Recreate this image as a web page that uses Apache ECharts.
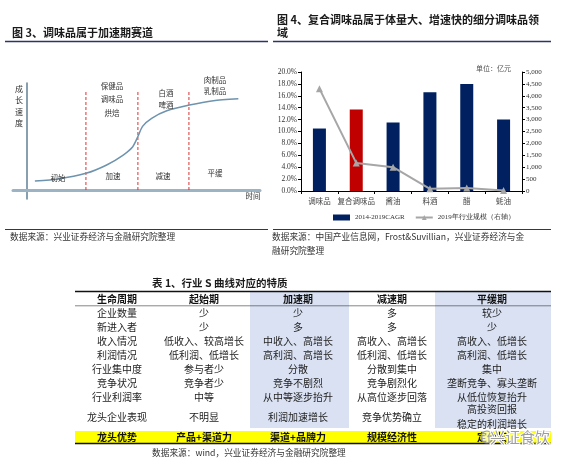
<!DOCTYPE html>
<html><head><meta charset="utf-8">
<script src="https://cdn.jsdelivr.net/npm/echarts@6/dist/echarts.min.js"></script>
<style>html,body{margin:0;padding:0;background:#fff}#c{width:573px;height:468px}</style>
</head><body><div id="c"></div>
<script>
// ---------- Figure 3: S-curve ----------
const curveTime   = [3.4, 13.4, 25.3, 34.2, 41.3, 45.4, 47.6, 49.6, 53.5, 60, 69.7, 80, 90.7];
const curveGrowth = [8.4, 10.3, 15.6, 23.4, 32.7, 40.5, 50.0, 59.5, 67, 74, 79.4, 83.5, 85.3];
const stageBounds = [25.3, 47.6, 69.5];
const stageBoundTop = 92.5;
const stageNames = ['初始', '加速', '减速', '平缓'];
const stageProducts = [[], ['保健品', '调味品', '烘焙'], ['白酒', '啤酒'], ['肉制品', '乳制品']];

// ---------- Figure 4: bars + line ----------
const categories = ['调味品', '复合调味品', '酱油', '料酒', '醋', '蚝油'];
const cagr = [10.5, 13.7, 11.5, 16.6, 18.0, 12.0];
const scale2019 = [4300, 1180, 1000, 90, 130, 25];
const highlightCategory = '复合调味品';
const seriesNames = ['2014-2019CAGR', '2019年行业规模（右轴）'];

// ---------- Table 1 ----------
const tableHeader = ['生命周期', '起始期', '加速期', '减速期', '平缓期'];
const rowLabels = ['企业数量', '新进入者', '收入情况', '利润情况', '行业集中度', '竞争状况', '行业利润率', '龙头企业表现'];
const colStart = ['少', '少', '低收入、较高增长', '低利润、低增长', '参与者少', '竞争者少', '中等', '不明显'];
const colAccel = ['少', '多', '中收入、高增长', '高利润、高增长', '分散', '竞争不剧烈', '从中等逐步抬升', '利润加速增长'];
const colDecel = ['多', '多', '高收入、高增长', '低利润、低增长', '分散到集中', '竞争剧烈化', '从高位逐步回落', '竞争优势确立'];
const colFlat = ['较少', '少', '高收入、低增长', '高利润、低增长', '集中', '垄断竞争、寡头垄断', '从低位恢复抬升', '高投资回报\n稳定的利润增长'];
const advantageRow = ['龙头优势', '产品+渠道力', '渠道+品牌力', '规模经济性', '定价权'];

const CJK = '"Noto Sans CJK SC", sans-serif';
const SERIF = '"Liberation Serif", "DejaVu Serif", serif';
const NAVY = '#2b3566';

const chart = echarts.init(document.getElementById('c'), null, {renderer: 'canvas'});

function txt(x, y, text, o) {
  o = o || {};
  return {type: 'text', x: x, y: y, silent: true, z: o.z || 10,
    style: {text: text, fill: o.fill || '#1a1a1a', fontSize: o.size || 10, fontFamily: o.family || CJK,
      fontWeight: o.weight || 'normal', align: o.align || 'center', verticalAlign: o.va || 'middle',
      lineHeight: o.lh, stroke: o.stroke, lineWidth: o.strokeWidth}};
}
function line(x1, y1, x2, y2, color, w) {
  return {type: 'line', silent: true, z: 5, shape: {x1: x1, y1: y1, x2: x2, y2: y2}, style: {stroke: color, lineWidth: w}};
}
function rect(x, y, w, h, color, z) {
  return {type: 'rect', silent: true, z: z || 1, shape: {x: x, y: y, width: w, height: h}, style: {fill: color}};
}

const g = [];
// titles & rules
g.push(txt(12, 33, '图 3、调味品属于加速期赛道', {align: 'left', size: 11, weight: 'bold'}));
g.push(txt(277, 20, '图 4、复合调味品属于体量大、增速快的细分调味品领', {align: 'left', size: 11, weight: 'bold'}));
g.push(txt(277, 33, '域', {align: 'left', size: 11, weight: 'bold'}));
g.push(line(5, 41.5, 268, 41.5, NAVY, 1.5));
g.push(line(273, 41.5, 551, 41.5, NAVY, 1.5));
g.push(line(5, 229.5, 268, 229.5, NAVY, 1.2));
g.push(line(273, 229.5, 551, 229.5, NAVY, 1.2));
g.push(txt(10, 237, '数据来源：兴业证券经济与金融研究院整理', {align: 'left', size: 8.7, fill: '#333'}));
g.push(txt(272, 237, '数据来源：中国产业信息网，Frost&Suvillian，兴业证券经济与金', {align: 'left', size: 8.7, fill: '#333'}));
g.push(txt(272, 251, '融研究院整理', {align: 'left', size: 8.7, fill: '#333'}));

// S-curve annotations
g.push(txt(19, 106, '成\n长\n速\n度', {size: 8, lh: 11.4, fill: '#333'}));
g.push(txt(253, 196, '时间', {size: 7.5, fill: '#333'}));
const stageLabelX = [58, 113, 163, 215];
const stageLabelY = [178, 176, 176, 173];
stageNames.forEach((s, i) => g.push(txt(stageLabelX[i], stageLabelY[i], s, {size: 7.5, fill: '#333'})));
const prodX = [0, 112, 166, 215];
const prodY0 = [0, 86, 93, 80];
const prodDy = [0, 13.5, 12.5, 11.5];
stageProducts.forEach((arr, i) => arr.forEach((p, j) => g.push(txt(prodX[i], prodY0[i] + j * prodDy[i], p, {size: 7.5, fill: '#333'}))));

// unit label
g.push(txt(511, 68, '单位：亿元', {align: 'right', size: 7, fill: '#555'}));

// Table
g.push(txt(152, 283, '表 1、行业 S 曲线对应的特质', {align: 'left', size: 10.5, weight: 'bold'}));
const tL = 75, tR = 551;
g.push(rect(250, 292, 99, 136, '#d9e1f2'));
g.push(rect(435, 292, tR - 435, 136, '#d9e1f2'));
g.push(rect(tL, 431, tR - tL, 12, '#ffff00'));
g.push(line(tL, 291.5, tR, 291.5, '#111', 1.3));
g.push(line(tL, 305.8, tR, 305.8, '#333', 0.6));
g.push(line(tL, 443.5, tR, 443.5, '#111', 1.3));
const colX = [117, 204, 298, 392, 492];
const rowY = [313, 327, 341, 355, 369, 383, 397, 417];
tableHeader.forEach((h, i) => g.push(txt(colX[i], 299, h, {size: 10, weight: 'bold', fill: '#111'})));
[rowLabels, colStart, colAccel, colDecel, colFlat].forEach((col, ci) => {
  col.forEach((v, ri) => g.push(txt(colX[ci], rowY[ri], v, {size: 10, fill: '#222', lh: 15})));
});
advantageRow.forEach((v, i) => g.push(txt(colX[i], 437.5, v, {size: 10, weight: 'bold', fill: '#111'})));
g.push(txt(152, 453, '数据来源：wind，兴业证券经济与金融研究院整理', {align: 'left', size: 8.7, fill: '#333'}));
// watermark
g.push({type: 'circle', silent: true, z: 20, shape: {cx: 487, cy: 437, r: 6}, style: {fill: 'rgba(255,255,255,0.6)', stroke: '#9a9a9a', lineWidth: 1.2}});
g.push(txt(520, 437, '兴证食饮', {size: 15, fill: 'rgba(140,140,140,0.85)', stroke: '#fff', strokeWidth: 2, z: 21}));

const curveData = curveTime.map((t, i) => [t, curveGrowth[i]]);
const boundSeries = stageBounds.map((b) => ({
  type: 'line', xAxisIndex: 0, yAxisIndex: 0, data: [[b, 0], [b, stageBoundTop]],
  symbol: 'none', silent: true, lineStyle: {color: '#e03030', width: 1, type: [3, 2]}, z: 3
}));

const option = {
  animation: false,
  backgroundColor: '#fff',
  grid: [
    {left: 13, top: 83, width: 247, height: 116},
    {left: 301, top: 72, width: 221, height: 119}
  ],
  xAxis: [
    {gridIndex: 0, type: 'value', min: -6, max: 100, axisLine: {onZero: true, lineStyle: {color: '#9bb3c2', width: 3}},
      axisTick: {show: false}, axisLabel: {show: false}, splitLine: {show: false}},
    {gridIndex: 1, type: 'category', data: categories,
      axisLine: {lineStyle: {color: '#000', width: 1}},
      axisTick: {show: true, length: 3, lineStyle: {color: '#000'}},
      axisLabel: {fontSize: 7.5, color: '#444', fontFamily: CJK, margin: 6, interval: 0}}
  ],
  yAxis: [
    {gridIndex: 0, type: 'value', min: -8.4, max: 100, axisLine: {show: true, onZero: true, lineStyle: {color: '#5f7f93', width: 1.5}},
      axisTick: {show: false}, axisLabel: {show: false}, splitLine: {show: false}},
    {gridIndex: 1, type: 'value', min: 0, max: 20, interval: 2, position: 'left',
      axisLine: {show: true, lineStyle: {color: '#000', width: 1}},
      axisTick: {show: true, length: 3, lineStyle: {color: '#000'}},
      axisLabel: {fontSize: 7.5, color: '#333', fontFamily: SERIF, margin: 4, formatter: v => v.toFixed(1) + '%'},
      splitLine: {show: false}},
    {gridIndex: 1, type: 'value', min: 0, max: 5000, interval: 500, position: 'right',
      axisLine: {show: true, lineStyle: {color: '#000', width: 1}},
      axisTick: {show: true, length: 3, lineStyle: {color: '#000'}},
      axisLabel: {fontSize: 7, color: '#333', fontFamily: SERIF, margin: 4, formatter: v => v.toLocaleString('en-US')},
      splitLine: {show: false}}
  ],
  legend: {
    left: 328, top: 209, itemWidth: 17, itemHeight: 6, itemGap: 10,
    textStyle: {fontSize: 7, fontFamily: SERIF, color: '#333'},
    data: [{name: seriesNames[0], icon: 'rect', itemStyle: {color: '#002060'}}, {name: seriesNames[1]}]
  },
  series: [
    {type: 'line', xAxisIndex: 0, yAxisIndex: 0, data: curveData, smooth: 0.22, symbol: 'none', silent: true,
      lineStyle: {color: '#6e93ae', width: 1.5}, z: 4},
    ...boundSeries,
    {name: seriesNames[0], type: 'bar', xAxisIndex: 1, yAxisIndex: 1, data: cagr, barWidth: 13, color: '#002060',
      itemStyle: {color: p => categories[p.dataIndex] === highlightCategory ? '#c00000' : '#002060'}},
    {name: seriesNames[1], type: 'line', xAxisIndex: 1, yAxisIndex: 2, data: scale2019,
      symbol: 'triangle', symbolSize: 7, color: '#a6a6a6',
      lineStyle: {color: '#a6a6a6', width: 2}, itemStyle: {color: '#a6a6a6'}}
  ],
  graphic: g
};
chart.setOption(option);
</script></body></html>
